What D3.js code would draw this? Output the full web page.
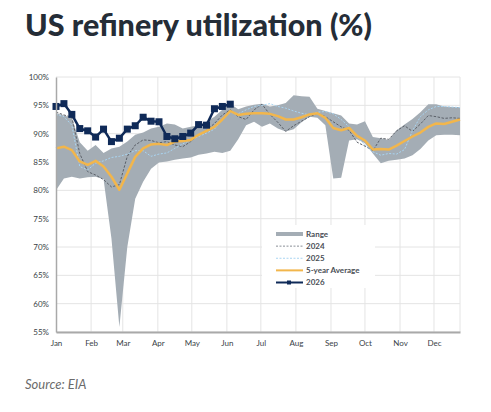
<!DOCTYPE html>
<html>
<head>
<meta charset="utf-8">
<script src="https://cdn.jsdelivr.net/npm/d3@7"></script>
<style>
  body { margin: 0; background: #fff; }
  svg { display: block; }
</style>
</head>
<body>
<svg id="chart" width="491" height="412"></svg>
<script>
// weekly values, week 0 = first week of Jan
const rangeHigh = [93.6, 93.2, 92.8, 88.5, 87.0, 88.0, 86.6, 87.4, 87.7, 88.6, 89.8, 90.2, 90.9,
  91.2, 91.8, 91.6, 90.9, 91.2, 91.5, 92.1, 93.0, 94.2, 95.3, 94.3, 94.8, 95.1, 95.3, 94.8, 95.0,
  95.4, 96.8, 96.6, 96.5, 94.4, 94.0, 93.6, 93.2, 91.8, 91.6, 92.2, 89.4, 89.2, 88.9, 90.6, 91.6,
  92.6, 93.8, 95.2, 95.2, 94.8, 94.7, 94.7];
const rangeLow = [80.0, 82.1, 82.4, 82.1, 82.3, 82.4, 82.0, 71.5, 55.9, 70.0, 78.5, 81.5, 83.8,
  84.9, 85.1, 85.4, 85.6, 85.8, 86.3, 86.5, 86.8, 86.6, 87.0, 89.0, 91.5, 92.1, 91.2, 91.8, 90.9,
  90.4, 90.8, 92.0, 93.0, 92.8, 91.5, 82.1, 82.2, 88.8, 89.0, 88.3, 86.5, 84.8, 85.2, 85.4, 85.6,
  86.2, 87.3, 88.8, 89.7, 89.8, 89.8, 89.7];
const y2024 = [93.8, 93.3, 92.9, 86.5, 83.3, 82.7, 81.9, 80.6, 81.0, 86.0, 88.0, 88.9, 88.8,
  88.4, 88.6, 88.0, 87.7, 88.6, 89.8, 90.6, 91.8, 93.3, 94.2, 93.0, 92.5, 94.2, 95.2, 93.4, 92.0,
  90.4, 91.4, 92.2, 93.0, 93.6, 93.0, 92.1, 91.2, 90.6, 88.5, 87.8, 87.0, 89.2, 89.0, 90.5, 91.4,
  90.4, 91.7, 93.2, 93.0, 92.7, 92.8, 92.7];
const y2025 = [93.4, 93.0, 91.5, 84.2, 83.6, 84.8, 85.2, 85.8, 86.0, 86.4, 87.0, 87.0, 86.0,
  86.4, 86.6, 87.4, 88.2, 88.9, 89.5, 90.1, 90.8, 92.5, 93.8, 93.5, 94.2, 94.8, 95.0, 95.3, 94.8,
  94.5, 94.0, 93.6, 93.3, 93.8, 93.9, 93.5, 92.5, 91.2, 89.5, 88.0, 86.8, 86.2, 86.5, 86.4, 87.2,
  90.5, 93.0, 94.2, 94.8, 94.8, 94.7, 94.6];
const avg5 = [87.4, 87.7, 87.1, 85.1, 84.5, 85.2, 84.2, 82.4, 80.1, 83.0, 85.9, 87.4, 88.1,
  88.2, 88.0, 88.6, 88.7, 88.9, 89.8, 90.5, 91.2, 92.5, 94.0, 93.3, 93.5, 93.6, 93.6, 93.5, 93.1,
  92.5, 92.5, 92.9, 93.4, 93.6, 92.8, 91.0, 90.6, 91.0, 89.6, 88.8, 87.2, 87.3, 87.2, 87.9, 88.7,
  89.5, 90.2, 91.2, 91.8, 91.7, 92.1, 92.5];
const y2026 = [94.8, 95.3, 93.4, 90.9, 90.5, 89.4, 90.8, 88.6, 89.2, 90.8, 91.4, 92.9, 92.2,
  92.1, 89.5, 89.1, 89.5, 90.1, 91.6, 91.5, 94.4, 94.8, 95.2];
const yTicks = [55, 60, 65, 70, 75, 80, 85, 90, 95, 100];
const legendItems = ['Range', '2024', '2025', '5-year Average', '2026'];

const svg = d3.select('svg#chart');
const start = new Date(2026, 0, 1);
const weekDate = i => d3.timeDay.offset(start, 7 * i);

const x = d3.scaleTime()
  .domain([start, weekDate(51)])
  .range([56, 460]);
const y = d3.scaleLinear()
  .domain([55, 100])
  .range([332, 77]);

// title + source
const title = svg.append('text')
  .attr('x', 25).attr('y', 36)
  .attr('fill', '#252d37')
  .style('font-family', 'Lato, "Open Sans", sans-serif')
  .style('font-weight', 900)
  .style('font-size', '31px')
  .text('US refinery utilization (%)');
title.attr('textLength', 347).attr('lengthAdjust', 'spacingAndGlyphs');

svg.append('text')
  .attr('x', 25).attr('y', 389)
  .attr('fill', '#6b6b6b')
  .style('font-family', 'Lato, sans-serif')
  .style('font-style', 'italic')
  .style('font-size', '13px')
  .text('Source: EIA');

const months = d3.timeMonth.range(start, new Date(2026, 11, 2));

// grid
svg.append('g').selectAll('line.h').data(yTicks).enter()
  .append('line')
  .attr('x1', 56).attr('x2', 460)
  .attr('y1', d => y(d)).attr('y2', d => y(d))
  .attr('stroke', '#e4e4e4').attr('stroke-width', 1);
svg.append('g').selectAll('line.v').data(months.slice(1).concat([weekDate(51)])).enter()
  .append('line')
  .attr('x1', d => x(d)).attr('x2', d => x(d))
  .attr('y1', y(100)).attr('y2', y(55))
  .attr('stroke', '#e4e4e4').attr('stroke-width', 1);

// range band
const area = d3.area()
  .x((d, i) => x(weekDate(i)))
  .y0((d, i) => y(rangeLow[i]))
  .y1(d => y(d));
svg.append('path')
  .datum(rangeHigh)
  .attr('fill', '#a4adb5')
  .attr('d', area);

const line = d3.line()
  .x((d, i) => x(weekDate(i)))
  .y(d => y(d));

svg.append('path').datum(y2024)
  .attr('fill', 'none').attr('stroke', '#5b6068')
  .attr('stroke-width', 1).attr('stroke-dasharray', '2.5,1.5')
  .attr('d', line);
svg.append('path').datum(y2025)
  .attr('fill', 'none').attr('stroke', '#a9d5f2')
  .attr('stroke-width', 1).attr('stroke-dasharray', '2,1.5')
  .attr('d', line);
svg.append('path').datum(avg5)
  .attr('fill', 'none').attr('stroke', '#f2b64c')
  .attr('stroke-width', 2.5).attr('stroke-linejoin', 'round')
  .attr('d', line);
svg.append('path').datum(y2026)
  .attr('fill', 'none').attr('stroke', '#0f2a58')
  .attr('stroke-width', 2.5)
  .attr('d', line);
svg.append('g').selectAll('rect').data(y2026).enter()
  .append('rect')
  .attr('x', (d, i) => x(weekDate(i)) - 3.5)
  .attr('y', d => y(d) - 3.5)
  .attr('width', 7).attr('height', 7)
  .attr('fill', '#0f2a58');

// axes
const yAxis = svg.append('g')
  .attr('transform', 'translate(56,0)')
  .call(d3.axisLeft(y).tickValues(yTicks).tickFormat(d => d + '%').tickSize(0).tickPadding(7));
yAxis.select('.domain').attr('stroke', '#a9a9a9').attr('stroke-width', 1.5);

const xAxis = svg.append('g')
  .attr('transform', 'translate(0,332)')
  .call(d3.axisBottom(x).tickValues(months).tickFormat(d3.timeFormat('%b')).tickSize(0).tickPadding(8));
xAxis.select('.domain').attr('stroke', '#a9a9a9').attr('stroke-width', 2);

svg.selectAll('.tick text')
  .attr('fill', '#3a3f47')
  .style('font-family', 'Lato, "Open Sans", sans-serif')
  .style('font-size', '8px');

// legend
const legend = svg.append('g');
legend.append('rect')
  .attr('x', 262).attr('y', 225).attr('width', 113).attr('height', 63)
  .attr('fill', '#fff');
const ly = d3.scalePoint().domain(legendItems).range([234, 282.5]);
const row = legend.selectAll('g.item').data(legendItems).enter()
  .append('g').attr('transform', d => `translate(0,${ly(d)})`);
row.append('text')
  .attr('x', 306).attr('dy', '0.35em')
  .attr('fill', '#4a4e55')
  .style('font-family', 'Lato, "Open Sans", sans-serif')
  .style('font-weight', 700)
  .style('font-size', '8px')
  .text(d => d);
const sym = {
  'Range': {stroke: '#a4adb5', w: 4, dash: null},
  '2024': {stroke: '#8a8f96', w: 1, dash: '2,1.5'},
  '2025': {stroke: '#a9d5f2', w: 1, dash: '2,1.5'},
  '5-year Average': {stroke: '#f2b64c', w: 2, dash: null},
  '2026': {stroke: '#0f2a58', w: 2, dash: null}
};
row.append('line')
  .attr('x1', 276).attr('x2', 303)
  .attr('stroke', d => sym[d].stroke)
  .attr('stroke-width', d => sym[d].w)
  .attr('stroke-dasharray', d => sym[d].dash);
row.filter(d => d === '2026').append('rect')
  .attr('x', 287).attr('y', -2).attr('width', 4).attr('height', 4)
  .attr('fill', '#0f2a58');
</script>
</body>
</html>
